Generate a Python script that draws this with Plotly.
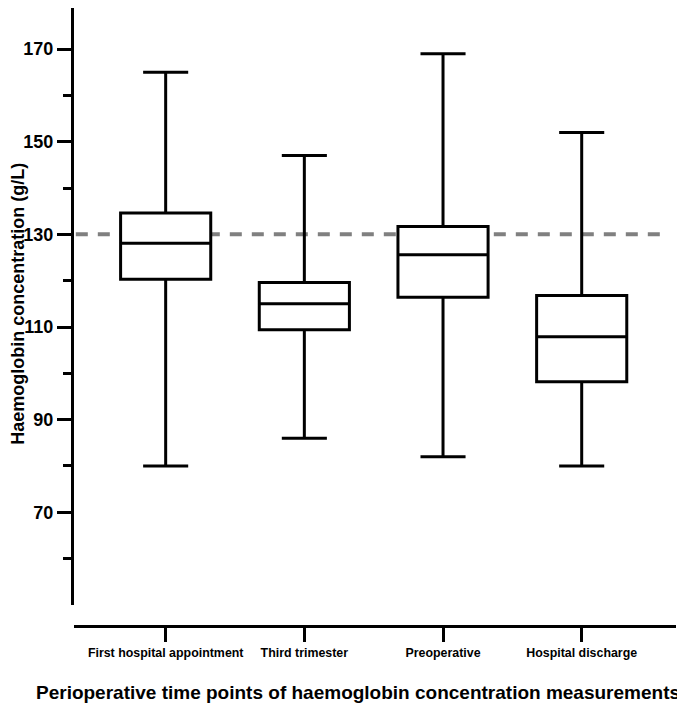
import plotly.graph_objects as go

categories = ["First hospital appointment", "Third trimester", "Preoperative", "Hospital discharge"]
lower_whisker = [80, 86, 82, 80]
q1_values = [120.3, 109.4, 116.4, 98.2]
median_values = [128.1, 115.0, 125.6, 107.9]
q3_values = [134.6, 119.6, 131.7, 116.8]
upper_whisker = [165, 147, 169, 152]
reference_level = 130
y_tick_values = [70, 90, 110, 130, 150, 170]
y_minor_values = [60, 80, 100, 120, 140, 160, 180]

FONT = "Liberation Sans, Arial, sans-serif"

fig = go.Figure()
fig.add_trace(go.Box(
    x=categories,
    q1=q1_values,
    median=median_values,
    q3=q3_values,
    lowerfence=lower_whisker,
    upperfence=upper_whisker,
    boxpoints=False,
    width=0.65,
    whiskerwidth=0.5,
    line=dict(color="black", width=3),
    fillcolor="white",
    showlegend=False,
    hoverinfo="skip",
))

fig.add_shape(type="line", xref="paper", yref="y", x0=0.003, x1=0.985,
              y0=reference_level, y1=reference_level,
              line=dict(color="#808080", width=4, dash="12px,10px"), layer="below")

fig.update_layout(
    width=677, height=700,
    margin=dict(l=66, r=9, t=0, b=82, autoexpand=False),
    plot_bgcolor="white", paper_bgcolor="white",
    font=dict(family=FONT, color="black"),
    xaxis=dict(
        type="category",
        range=[-0.661, 3.680],
        anchor="free", position=0,
        automargin=False,
        showline=True, linewidth=3, linecolor="black",
        ticks="outside", ticklen=14, tickwidth=3, tickcolor="black",
        showgrid=False, zeroline=False,
        tickfont=dict(family=FONT, size=12.4, color="black", weight="bold"),
    ),
    yaxis=dict(
        domain=[0.034, 1],
        range=[50, 178.85],
        automargin=False,
        tickvals=y_tick_values,
        showline=True, linewidth=3, linecolor="black",
        ticks="outside", ticklen=14, tickwidth=3, tickcolor="black",
        minor=dict(tickvals=y_minor_values, ticklen=8, tickwidth=3, tickcolor="black", ticks="outside"),
        showgrid=False, zeroline=False,
        tickfont=dict(family=FONT, size=18, color="black", weight="bold"),
    ),
    annotations=[
        dict(text="<b>Haemoglobin concentration (g/L)</b>", xref="paper", yref="paper",
             x=-0.0935, y=0.521, textangle=-90, showarrow=False,
             xanchor="center", yanchor="middle", font=dict(family=FONT, size=18, color="black")),
        dict(text="<b>Perioperative time points of haemoglobin concentration measurements</b>",
             xref="paper", yref="paper", x=0.4718, y=-0.1068, showarrow=False,
             xanchor="center", yanchor="middle", font=dict(family=FONT, size=19, color="black")),
    ],
)

fig.write_html("out.html")
